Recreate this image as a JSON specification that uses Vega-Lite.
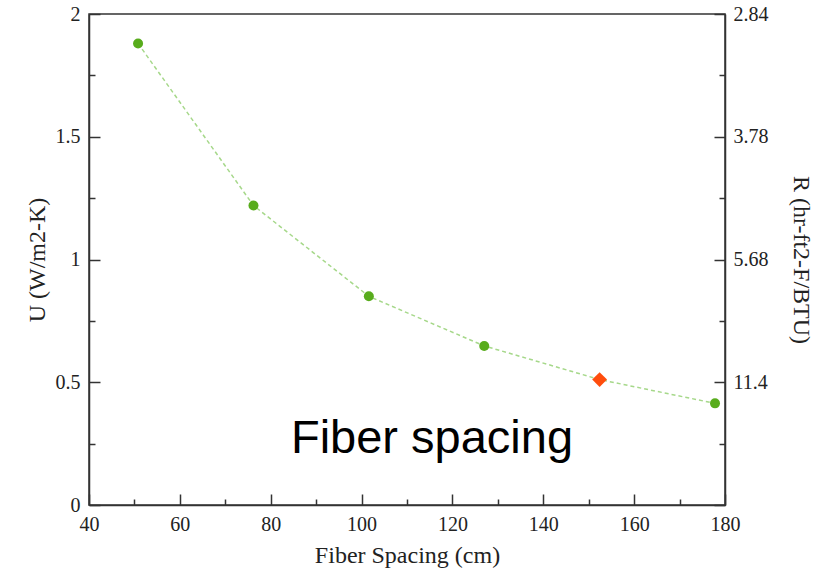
{
  "$schema": "https://vega.github.io/schema/vega-lite/v6.json",
  "width": 636,
  "height": 491,
  "autosize": {"type": "none"},
  "padding": {"left": 89, "top": 14, "right": 100, "bottom": 68},
  "background": "white",
  "config": {
    "view": {"stroke": "#333333", "strokeWidth": 1.5},
    "axis": {
      "grid": false,
      "labelFont": "Liberation Serif",
      "titleFont": "Liberation Serif",
      "labelFontSize": 20,
      "titleFontSize": 24,
      "titleFontWeight": "normal",
      "labelColor": "#222222",
      "titleColor": "#222222",
      "domainColor": "#333333",
      "domainWidth": 1.5,
      "tickColor": "#333333",
      "tickWidth": 1.5
    }
  },
  "datasets": {
    "pts": [
      {"spacing": 50.8, "u": 1.88, "kind": "base"},
      {"spacing": 76.2, "u": 1.22, "kind": "base"},
      {"spacing": 101.6, "u": 0.85, "kind": "base"},
      {"spacing": 127.0, "u": 0.648, "kind": "base"},
      {"spacing": 152.4, "u": 0.511, "kind": "selected"},
      {"spacing": 177.8, "u": 0.414, "kind": "base"}
    ],
    "note": [
      {"spacing": 115.5, "u": 0.212, "label": "Fiber spacing"}
    ]
  },
  "layer": [
    {
      "data": {"name": "pts"},
      "mark": {"type": "line", "color": "#a6d88a", "strokeDash": [4, 3], "strokeWidth": 1.5},
      "encoding": {
        "x": {
          "field": "spacing", "type": "quantitative",
          "scale": {"domain": [40, 180], "nice": false, "zero": false},
          "axis": {
            "title": "Fiber Spacing (cm)",
            "values": [40, 50, 60, 70, 80, 90, 100, 110, 120, 130, 140, 150, 160, 170, 180],
            "labelExpr": "datum.value % 20 === 0 ? '' + datum.value : ''",
            "tickSize": {"condition": {"test": "datum.value % 20 === 0", "value": -11}, "value": -6},
            "labelPadding": 20,
            "titlePadding": 4,
            "labelFlush": false,
            "labelOverlap": false
          }
        },
        "y": {
          "field": "u", "type": "quantitative",
          "scale": {"domain": [0, 2], "nice": false},
          "axis": {
            "title": "U (W/m2-K)",
            "orient": "left",
            "values": [0, 0.25, 0.5, 0.75, 1, 1.25, 1.5, 1.75, 2],
            "labelExpr": "datum.value % 0.5 === 0 ? '' + datum.value : ''",
            "tickSize": {"condition": {"test": "datum.value % 0.5 === 0", "value": -11}, "value": -6},
            "labelPadding": 20,
            "titlePadding": 6,
            "labelFlush": false,
            "labelOverlap": false
          }
        }
      }
    },
    {
      "data": {"name": "pts"},
      "mark": {"type": "point", "filled": true, "opacity": 1},
      "encoding": {
        "x": {"field": "spacing", "type": "quantitative"},
        "y": {
          "field": "u", "type": "quantitative",
          "axis": {
            "title": "R (hr-ft2-F/BTU)",
            "orient": "right",
            "values": [0, 0.25, 0.5, 0.75, 1, 1.25, 1.5, 1.75, 2],
            "labelExpr": "datum.value === 2 ? '2.84' : datum.value === 1.5 ? '3.78' : datum.value === 1 ? '5.68' : datum.value === 0.5 ? '11.4' : ''",
            "tickSize": {"condition": {"test": "datum.value % 0.5 === 0", "value": -11}, "value": -6},
            "labelPadding": 19,
            "titlePadding": 20,
            "labelFlush": false,
            "labelOverlap": false
          }
        },
        "shape": {
          "field": "kind", "type": "nominal",
          "scale": {"domain": ["base", "selected"], "range": ["circle", "diamond"]},
          "legend": null
        },
        "color": {
          "field": "kind", "type": "nominal",
          "scale": {"domain": ["base", "selected"], "range": ["#58ac1c", "#ff4d0d"]},
          "legend": null
        },
        "size": {
          "field": "kind", "type": "nominal",
          "scale": {"domain": ["base", "selected"], "range": [100, 220]},
          "legend": null
        }
      }
    },
    {
      "data": {"name": "note"},
      "mark": {"type": "text", "font": "Liberation Sans", "fontSize": 47, "color": "#000000", "align": "center", "baseline": "alphabetic"},
      "encoding": {
        "x": {"field": "spacing", "type": "quantitative"},
        "y": {"field": "u", "type": "quantitative", "axis": null},
        "text": {"field": "label"}
      }
    }
  ],
  "resolve": {"axis": {"y": "independent"}}
}
